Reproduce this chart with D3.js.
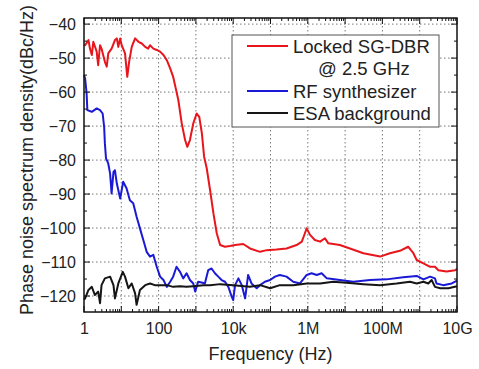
<!DOCTYPE html>
<html>
<head>
<meta charset="utf-8">
<script src="https://cdn.jsdelivr.net/npm/d3@7"></script>
<style>
  body { margin: 0; background: #fff; }
  svg text { font-family: "Liberation Sans", Arial, sans-serif; fill: #222; }
</style>
</head>
<body>
<div class="chart"></div>
<script>
// frequency is given as log10(Hz), values in dBc/Hz
const lockedSgDbr = [[0,-46],[0.03,-46.2],[0.12,-44.7],[0.16,-47.2],[0.21,-49.1],[0.25,-45.2],[0.34,-48.1],[0.38,-52.1],[0.43,-46.2],[0.47,-47.2],[0.56,-51.1],[0.61,-52.5],[0.65,-48.6],[0.74,-47.2],[0.83,-44.7],[0.88,-44.2],[0.92,-46.7],[0.97,-44.2],[1.01,-46.2],[1.10,-48.6],[1.16,-55.5],[1.21,-51.1],[1.28,-46.7],[1.37,-44.2],[1.46,-45.2],[1.55,-45.7],[1.64,-46.7],[1.72,-47.2],[1.77,-46.2],[1.86,-47.2],[1.95,-47.6],[2.04,-48.1],[2.13,-49.1],[2.22,-50.6],[2.31,-53.0],[2.39,-55.5],[2.48,-59.9],[2.53,-62.4],[2.62,-69.2],[2.71,-74.1],[2.77,-76.1],[2.84,-74.1],[2.93,-69.2],[3.02,-66.3],[3.09,-67.3],[3.16,-72.1],[3.22,-79.0],[3.29,-82.4],[3.38,-88.8],[3.47,-95.7],[3.56,-101.6],[3.65,-105.0],[3.78,-105.5],[3.91,-105.3],[4.05,-105.0],[4.27,-104.7],[4.45,-106],[4.72,-107],[4.90,-106.5],[5.16,-106.3],[5.43,-106],[5.70,-105],[5.84,-104],[5.92,-101.6],[5.97,-100.1],[6.06,-102],[6.19,-103.5],[6.33,-104],[6.46,-103],[6.55,-104.5],[6.86,-105],[7.13,-106],[7.49,-107.4],[7.94,-108.4],[8.20,-107.4],[8.47,-106.7],[8.69,-105.5],[8.83,-107.4],[8.92,-109.4],[9.10,-110.4],[9.28,-111.4],[9.41,-111.4],[9.50,-112.4],[9.72,-112.8],[9.95,-112.4],[10,-112.0]];

const rfSynth = [[0,-55],[0.03,-56],[0.07,-60.4],[0.09,-65.3],[0.21,-65.8],[0.34,-64.8],[0.43,-65.3],[0.50,-66.3],[0.54,-70.2],[0.56,-75.1],[0.59,-79.5],[0.65,-81],[0.70,-84],[0.74,-89.8],[0.79,-83.5],[0.83,-83],[0.88,-86.9],[0.97,-91.3],[1.05,-86.4],[1.14,-88.3],[1.23,-91.8],[1.32,-92.7],[1.41,-96.7],[1.50,-100.1],[1.59,-103.5],[1.68,-107],[1.77,-108.4],[1.86,-107.9],[1.95,-111.4],[2.04,-114.3],[2.13,-115.3],[2.22,-117.3],[2.31,-115.8],[2.39,-114.3],[2.48,-111.4],[2.57,-112.8],[2.66,-114.8],[2.75,-113.3],[2.84,-115.3],[2.93,-116.3],[2.98,-118.7],[3.06,-115.8],[3.15,-116],[3.24,-116.3],[3.33,-112.4],[3.42,-111.9],[3.51,-113.3],[3.60,-114.3],[3.69,-115.3],[3.78,-115.8],[3.87,-117.3],[3.96,-120.2],[4.00,-121.2],[4.05,-116.8],[4.14,-114.8],[4.23,-116.8],[4.32,-120.7],[4.40,-113.8],[4.49,-116.3],[4.63,-117.7],[4.72,-116.8],[4.85,-115.8],[4.99,-115.3],[5.12,-114.3],[5.25,-113.8],[5.43,-114.3],[5.61,-115.8],[5.79,-116.3],[5.97,-113.8],[6.10,-113.3],[6.24,-113.8],[6.37,-113.3],[6.51,-114.8],[6.86,-115.3],[7.22,-115.8],[7.67,-115.3],[8.11,-115.1],[8.56,-114.5],[8.92,-114.1],[9.10,-115.1],[9.28,-114.3],[9.41,-114.8],[9.45,-116.3],[9.63,-116.8],[9.86,-116.3],[10,-115.5]];

const esaBackground = [[0,-121],[0.03,-120.7],[0.12,-118.2],[0.21,-117.3],[0.29,-119.7],[0.38,-118.7],[0.43,-122.1],[0.47,-116.8],[0.56,-114.8],[0.70,-114.3],[0.79,-116.8],[0.83,-120.7],[0.92,-116.3],[1.04,-112.9],[1.10,-114.3],[1.19,-117.7],[1.28,-116.3],[1.37,-119.2],[1.41,-122.6],[1.50,-118.2],[1.64,-116.8],[1.77,-116.3],[1.90,-116.8],[2.04,-116.8],[2.22,-116.8],[2.39,-117.3],[2.57,-117.1],[2.75,-117.3],[2.93,-117.1],[3.20,-116.8],[3.38,-116.8],[3.65,-116.5],[4.00,-116.8],[4.45,-117.3],[4.72,-116.8],[4.99,-117.7],[5.25,-116.8],[5.61,-116.8],[5.97,-116.3],[6.33,-116.3],[6.68,-115.8],[7.04,-116.1],[7.49,-116.5],[7.94,-116.8],[8.38,-116.3],[8.74,-115.8],[8.92,-116.3],[9.10,-115.8],[9.23,-116.3],[9.32,-115.3],[9.41,-117.3],[9.55,-117.7],[9.77,-117.7],[10,-117.1]];

const seriesNames = ["Locked SG-DBR", "RF synthesizer", "ESA background"];
const seriesColors = ["#e8161c", "#1a1ad6", "#151515"];
const xTickVals = [1, 1e2, 1e4, 1e6, 1e8, 1e10];
const xTickLabels = ["1", "100", "10k", "1M", "100M", "10G"];
const yTickVals = [-40, -50, -60, -70, -80, -90, -100, -110, -120];

let margin = {top: 18, right: 22, bottom: 57, left: 84};
let width = 479, height = 369;
let w = width - margin.left - margin.right;
let h = height - margin.top - margin.bottom;

let svg = d3.select('.chart').append('svg')
  .attr('width', width).attr('height', height);
let g = svg.append('g')
  .attr('transform', 'translate(' + margin.left + ',' + margin.top + ')');

let x = d3.scaleLog().domain([1, 1e10]).range([0, w]);
let y = d3.scaleLinear().domain([-124.7, -38.2]).range([h, 0]);

// dotted grid
let decades = d3.range(1, 10).map(function(d){ return Math.pow(10, d); });
g.append('g').selectAll('line').data(decades).enter().append('line')
  .attr('x1', function(d){ return x(d); }).attr('x2', function(d){ return x(d); })
  .attr('y1', 0).attr('y2', h)
  .attr('stroke', '#777').attr('stroke-width', 1).attr('stroke-dasharray', '1.5,2.5');
g.append('g').selectAll('line').data(yTickVals).enter().append('line')
  .attr('x1', 0).attr('x2', w)
  .attr('y1', function(d){ return y(d); }).attr('y2', function(d){ return y(d); })
  .attr('stroke', '#777').attr('stroke-width', 1).attr('stroke-dasharray', '1.5,2.5');

// curves
let line = d3.line()
  .x(function(d){ return x(Math.pow(10, d[0])); })
  .y(function(d){ return y(d[1]); });

[lockedSgDbr, rfSynth, esaBackground].forEach(function(s, i){
  g.append('path').datum(s)
    .attr('d', line)
    .attr('fill', 'none')
    .attr('stroke', seriesColors[i])
    .attr('stroke-width', 2)
    .attr('stroke-linejoin', 'round');
});

// axes, ticks pointing inward, mirrored on top/right
let minorX = [];
for (let e = 0; e < 10; e++) {
  for (let m = 2; m < 10; m++) minorX.push(m * Math.pow(10, e));
}
let allDecades = d3.range(0, 11).map(function(d){ return Math.pow(10, d); });

g.append('g')
  .attr('transform', 'translate(0,' + h + ')')
  .call(d3.axisBottom(x).tickValues(xTickVals)
    .tickFormat(function(d, i){ return xTickLabels[i]; })
    .tickSize(0).tickPadding(11))
  .call(function(a){ a.select('.domain').remove(); })
  .selectAll('text').style('font-size', '16px').style('font-family', '"Liberation Sans", Arial, sans-serif').attr('fill', '#222');

g.append('g')
  .call(d3.axisLeft(y).tickValues(yTickVals)
    .tickSize(0).tickPadding(8))
  .call(function(a){ a.select('.domain').remove(); })
  .selectAll('text').style('font-size', '16px').style('font-family', '"Liberation Sans", Arial, sans-serif').attr('fill', '#222');

let tickG = g.append('g').attr('stroke', '#111').attr('stroke-width', 1);
function xTicks(vals, len) {
  vals.forEach(function(v){
    tickG.append('line').attr('x1', x(v)).attr('x2', x(v)).attr('y1', h).attr('y2', h - len);
    tickG.append('line').attr('x1', x(v)).attr('x2', x(v)).attr('y1', 0).attr('y2', len);
  });
}
xTicks(allDecades, 6);
xTicks(minorX, 3);
let minorY = d3.range(-120, -35, 5);
minorY.forEach(function(v){
  let len = (v % 10 === 0) ? 6 : 3;
  tickG.append('line').attr('x1', 0).attr('x2', len).attr('y1', y(v)).attr('y2', y(v));
  tickG.append('line').attr('x1', w).attr('x2', w - len).attr('y1', y(v)).attr('y2', y(v));
});

g.append('rect')
  .attr('x', 0).attr('y', 0).attr('width', w).attr('height', h)
  .attr('fill', 'none').attr('stroke', '#111').attr('stroke-width', 1.5);

// axis titles
svg.append('text')
  .attr('x', margin.left + w / 2).attr('y', 360)
  .attr('text-anchor', 'middle')
  .style('font-size', '18px')
  .text('Frequency (Hz)');
svg.append('text')
  .attr('transform', 'translate(33,160) rotate(-90)')
  .attr('text-anchor', 'middle')
  .style('font-size', '18px')
  .text('Phase noise spectrum density(dBc/Hz)');

// legend
let leg = svg.append('g').attr('transform', 'translate(232,35)');
leg.append('rect').attr('width', 207).attr('height', 92)
  .attr('fill', '#fff').attr('stroke', '#555').attr('stroke-width', 1);
let rows = [11, 56, 78];
seriesNames.forEach(function(n, i){
  leg.append('line').attr('x1', 15).attr('x2', 56)
    .attr('y1', rows[i]).attr('y2', rows[i])
    .attr('stroke', seriesColors[i]).attr('stroke-width', 2);
  leg.append('text').attr('x', 61).attr('y', rows[i] + 6.5)
    .style('font-size', '18.5px').text(n);
});
leg.append('text').attr('x', 86).attr('y', 39.5).style('font-size', '18.5px').text('@ 2.5 GHz');
</script>
</body>
</html>
